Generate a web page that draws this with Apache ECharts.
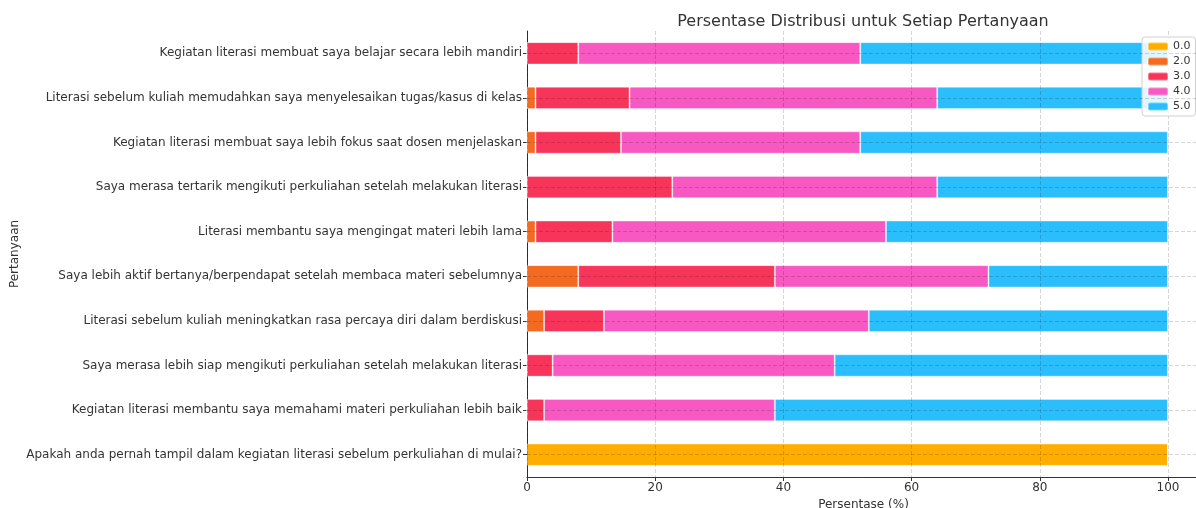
<!DOCTYPE html>
<html>
<head>
<meta charset="utf-8">
<script src="https://cdn.jsdelivr.net/npm/echarts@6/dist/echarts.min.js"></script>
<style>
  html, body { margin: 0; padding: 0; background: #fff; }
  #chart { width: 1196px; height: 508px; }
</style>
</head>
<body>
<div id="chart"></div>
<script>
// pertanyaan, dari atas ke bawah
const categories = [
  'Kegiatan literasi membuat saya belajar secara lebih mandiri',
  'Literasi sebelum kuliah memudahkan saya menyelesaikan tugas/kasus di kelas',
  'Kegiatan literasi membuat saya lebih fokus saat dosen menjelaskan',
  'Saya merasa tertarik mengikuti perkuliahan setelah melakukan literasi',
  'Literasi membantu saya mengingat materi lebih lama',
  'Saya lebih aktif bertanya/berpendapat setelah membaca materi sebelumnya',
  'Literasi sebelum kuliah meningkatkan rasa percaya diri dalam berdiskusi',
  'Saya merasa lebih siap mengikuti perkuliahan setelah melakukan literasi',
  'Kegiatan literasi membantu saya memahami materi perkuliahan lebih baik',
  'Apakah anda pernah tampil dalam kegiatan literasi sebelum perkuliahan di mulai?'
];
const scoreNames = ['0.0', '2.0', '3.0', '4.0', '5.0'];
const pct0 = [0, 0, 0, 0, 0, 0, 0, 0, 0, 100];
const pct2 = [0, 1.33, 1.33, 0, 1.33, 8, 2.67, 0, 0, 0];
const pct3 = [8, 14.67, 13.33, 22.67, 12, 30.67, 9.33, 4, 2.67, 0];
const pct4 = [44, 48, 37.33, 41.33, 42.67, 33.33, 41.33, 44, 36, 0];
const pct5 = [48, 36, 48, 36, 44, 28, 46.67, 52, 61.33, 0];
const xTicks = [0, 20, 40, 60, 80, 100];

const colors = ['#FFAE00', '#F46A21', '#F7345A', '#F858C1', '#2BBEFC'];
const values = [pct0, pct2, pct3, pct4, pct5];
const gridColor = 'rgba(0,0,0,0.16)';
const textColor = '#333';

const chart = echarts.init(document.getElementById('chart'));

const series = scoreNames.map((name, i) => {
  const s = {
    name: name,
    type: 'bar',
    stack: 'total',
    barWidth: '50%',
    data: values[i],
    itemStyle: {
      color: colors[i],
      borderColor: 'rgba(255,255,255,0.35)',
      borderWidth: 1
    },
    emphasis: { disabled: true }
  };
  if (i === scoreNames.length - 1) {
    // garis bantu horizontal di tengah setiap kategori
    s.markLine = {
      silent: true,
      symbol: 'none',
      label: { show: false },
      lineStyle: { type: 'dashed', color: gridColor, width: 1 },
      data: categories.map(c => ({ yAxis: c }))
    };
  }
  return s;
});

const option = {
  animation: false,
  textStyle: { fontFamily: 'DejaVu Sans' },
  title: {
    text: 'Persentase Distribusi untuk Setiap Pertanyaan',
    left: 858,
    textAlign: 'center',
    top: 9,
    textStyle: { fontSize: 16, fontWeight: 'normal', color: textColor, fontFamily: 'DejaVu Sans' }
  },
  legend: {
    data: scoreNames,
    orient: 'vertical',
    left: 1142,
    top: 37,
    itemWidth: 20,
    itemHeight: 8,
    itemGap: 4,
    padding: [4, 5, 4, 5],
    backgroundColor: 'rgba(255,255,255,0.85)',
    borderColor: '#d0d0d0',
    borderWidth: 1,
    borderRadius: 3,
    textStyle: { fontSize: 11, color: textColor, fontFamily: 'DejaVu Sans' }
  },
  grid: {
    left: 527,
    top: 31,
    width: 673,
    height: 446,
    containLabel: false,
    outerBoundsMode: 'none'
  },
  xAxis: {
    type: 'value',
    min: 0,
    max: 105,
    interval: 20,
    z: 3,
    name: 'Persentase (%)',
    nameLocation: 'middle',
    nameGap: 18,
    nameTextStyle: { fontSize: 12, color: textColor },
    axisLine: { show: true, lineStyle: { color: '#333', width: 1 } },
    axisTick: { show: true, length: 4, lineStyle: { color: '#333' } },
    axisLabel: {
      fontSize: 12,
      color: textColor,
      margin: 5,
      showMaxLabel: false,
      formatter: v => (xTicks.indexOf(v) >= 0 ? String(v) : '')
    },
    splitLine: { show: true, lineStyle: { type: 'dashed', color: gridColor, width: 1 } }
  },
  yAxis: {
    type: 'category',
    data: categories,
    inverse: true,
    name: 'Pertanyaan',
    nameLocation: 'middle',
    nameGap: 506,
    nameMoveOverlap: false,
    nameRotate: 90,
    nameTextStyle: { fontSize: 12, color: textColor },
    axisLine: { show: true, lineStyle: { color: '#333', width: 1 } },
    axisTick: { show: true, alignWithLabel: true, length: 4, lineStyle: { color: '#333' } },
    axisLabel: { fontSize: 12, color: textColor, margin: 5 },
    splitLine: { show: false }
  },
  series: series
};

chart.setOption(option);
</script>
</body>
</html>
